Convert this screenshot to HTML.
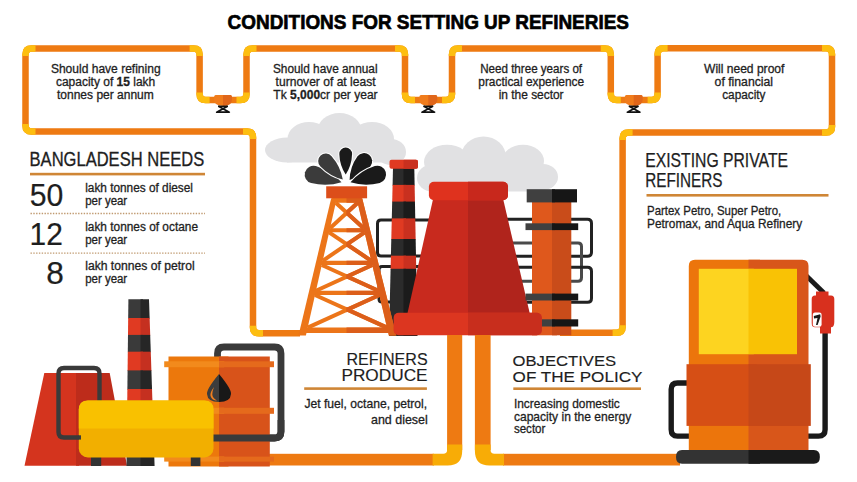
<!DOCTYPE html>
<html><head><meta charset="utf-8"><style>
html,body{margin:0;padding:0;background:#fff;width:857px;height:482px;overflow:hidden}
svg{display:block}
</style></head><body>
<svg width="857" height="482" viewBox="0 0 857 482">
<defs><clipPath id="chs"><polygon points="393,168 414.3,168 417.5,336 389,336"/></clipPath>
<clipPath id="drR"><rect x="346.5" y="0" width="200" height="500"/></clipPath>
<clipPath id="ctR"><rect x="468" y="0" width="200" height="500"/></clipPath>
<clipPath id="ch2"><polygon points="128.4,299.3 149,299.3 154.6,466 126.5,466"/></clipPath></defs>
<rect width="857" height="482" fill="#fff"/>
<g fill="#e1e1e3">
<ellipse cx="287" cy="150" rx="22" ry="12.5"/><ellipse cx="309" cy="139" rx="21.5" ry="17"/><ellipse cx="339.5" cy="132" rx="22.5" ry="19"/><ellipse cx="372" cy="139" rx="22" ry="17"/><ellipse cx="391" cy="152" rx="15" ry="13"/><rect x="287" y="139" width="104" height="23.5"/>
<ellipse cx="432" cy="178" rx="15" ry="13.5"/><ellipse cx="447" cy="162" rx="23" ry="17.2"/><ellipse cx="483.5" cy="157" rx="22.5" ry="20.5"/><ellipse cx="523" cy="161" rx="21" ry="16.2"/><ellipse cx="543" cy="177" rx="15" ry="13"/><rect x="432" y="160" width="111" height="31.5"/>
</g>
<g fill="none" stroke-width="3">
<path d="M430 220 H381 Q377.5 220 377.5 223.5 V252.5 Q377.5 256 381 256 H430" stroke="#222"/>
<path d="M500 219.2 H587.5 Q591.5 219.2 591.5 223.2 V252.2 Q591.5 256.2 587.5 256.2 H500" stroke="#222"/>
<path d="M500 243 H578 Q581.5 243 581.5 246.5 V277.5 Q581.5 281.3 578 281.3 H500" stroke="#4a4a4a"/>
<path d="M430 266.5 H382 Q379 266.5 379 269.5 V299 Q379 302 382 302 H430" stroke="#222"/>
<path d="M500 267.2 H587.5 Q591.5 267.2 591.5 271.2 V298.2 Q591.5 302.2 587.5 302.2 H500" stroke="#222"/>
</g>
<path d="M300.0 333.2 L259.0 333.2 Q253.0 333.2 253.0 327.2 L253.0 137.5 Q253.0 131.5 247.0 131.5 L31.5 131.5 Q25.5 131.5 25.5 125.5 L25.5 54.4 Q25.5 48.4 31.5 48.4 L193.6 48.4 Q199.6 48.4 199.6 54.4 L199.6 94.0 Q199.6 100.0 205.6 100.0 L240.5 100.0 Q246.5 100.0 246.5 94.0 L246.5 54.4 Q246.5 48.4 252.5 48.4 L399.0 48.4 Q405.0 48.4 405.0 54.4 L405.0 94.0 Q405.0 100.0 411.0 100.0 L446.0 100.0 Q452.0 100.0 452.0 94.0 L452.0 54.4 Q452.0 48.4 458.0 48.4 L604.8 48.4 Q610.8 48.4 610.8 54.4 L610.8 94.0 Q610.8 100.0 616.8 100.0 L651.6 100.0 Q657.6 100.0 657.6 94.0 L657.6 54.2 Q657.6 48.2 663.6 48.2 L826.0 48.2 Q832.0 48.2 832.0 54.2 L832.0 126.6 Q832.0 132.6 826.0 132.6 L628.6 132.6 Q622.6 132.6 622.6 138.6 L622.6 326.8 Q622.6 332.8 616.6 332.8 L560.0 332.8" fill="none" stroke="#ee7a12" stroke-width="6.5"/><path d="M263.0 333.2 L259.0 333.2 Q253.0 333.2 253.0 327.2 L253.0 325.7" fill="none" stroke="#fdbe10" stroke-width="6.5"/><path d="M253.0 139.0 L253.0 137.5 Q253.0 131.5 247.0 131.5 L243.0 131.5" fill="none" stroke="#fdbe10" stroke-width="6.5"/><path d="M35.5 131.5 L31.5 131.5 Q25.5 131.5 25.5 125.5 L25.5 124.0" fill="none" stroke="#fdbe10" stroke-width="6.5"/><path d="M25.5 55.9 L25.5 54.4 Q25.5 48.4 31.5 48.4 L35.5 48.4" fill="none" stroke="#fdbe10" stroke-width="6.5"/><path d="M189.6 48.4 L193.6 48.4 Q199.6 48.4 199.6 54.4 L199.6 55.9" fill="none" stroke="#fdbe10" stroke-width="6.5"/><path d="M199.6 92.5 L199.6 94.0 Q199.6 100.0 205.6 100.0 L209.6 100.0" fill="none" stroke="#fdbe10" stroke-width="6.5"/><path d="M236.5 100.0 L240.5 100.0 Q246.5 100.0 246.5 94.0 L246.5 92.5" fill="none" stroke="#fdbe10" stroke-width="6.5"/><path d="M246.5 55.9 L246.5 54.4 Q246.5 48.4 252.5 48.4 L256.5 48.4" fill="none" stroke="#fdbe10" stroke-width="6.5"/><path d="M395.0 48.4 L399.0 48.4 Q405.0 48.4 405.0 54.4 L405.0 55.9" fill="none" stroke="#fdbe10" stroke-width="6.5"/><path d="M405.0 92.5 L405.0 94.0 Q405.0 100.0 411.0 100.0 L415.0 100.0" fill="none" stroke="#fdbe10" stroke-width="6.5"/><path d="M442.0 100.0 L446.0 100.0 Q452.0 100.0 452.0 94.0 L452.0 92.5" fill="none" stroke="#fdbe10" stroke-width="6.5"/><path d="M452.0 55.9 L452.0 54.4 Q452.0 48.4 458.0 48.4 L462.0 48.4" fill="none" stroke="#fdbe10" stroke-width="6.5"/><path d="M600.8 48.4 L604.8 48.4 Q610.8 48.4 610.8 54.4 L610.8 55.9" fill="none" stroke="#fdbe10" stroke-width="6.5"/><path d="M610.8 92.5 L610.8 94.0 Q610.8 100.0 616.8 100.0 L620.8 100.0" fill="none" stroke="#fdbe10" stroke-width="6.5"/><path d="M647.6 100.0 L651.6 100.0 Q657.6 100.0 657.6 94.0 L657.6 92.5" fill="none" stroke="#fdbe10" stroke-width="6.5"/><path d="M657.6 55.7 L657.6 54.2 Q657.6 48.2 663.6 48.2 L667.6 48.2" fill="none" stroke="#fdbe10" stroke-width="6.5"/><path d="M822.0 48.2 L826.0 48.2 Q832.0 48.2 832.0 54.2 L832.0 55.7" fill="none" stroke="#fdbe10" stroke-width="6.5"/><path d="M832.0 125.1 L832.0 126.6 Q832.0 132.6 826.0 132.6 L822.0 132.6" fill="none" stroke="#fdbe10" stroke-width="6.5"/><path d="M632.6 132.6 L628.6 132.6 Q622.6 132.6 622.6 138.6 L622.6 140.1" fill="none" stroke="#fdbe10" stroke-width="6.5"/><path d="M622.6 325.3 L622.6 326.8 Q622.6 332.8 616.6 332.8 L612.6 332.8" fill="none" stroke="#fdbe10" stroke-width="6.5"/>
<path d="M215.5 95 h15 q1.5 0 1.5 2.5 v2 q0 6.5 -9 6.5 q-9 0 -9 -6.5 v-2 q0 -2.5 1.5 -2.5 z" fill="#f07c1c"/><path d="M223.0 95 h7.5 q1.5 0 1.5 2.5 v2 q0 6.5 -9 6.5 z" fill="#e0661a"/><path d="M218.0 106.3 h10" stroke="#111" stroke-width="1.5"/><path d="M218.5 106.3 L229.3 112.2 H216.7 L227.5 106.3" fill="none" stroke="#111" stroke-width="1.7" stroke-linejoin="round"/>
<path d="M420.8 95 h15 q1.5 0 1.5 2.5 v2 q0 6.5 -9 6.5 q-9 0 -9 -6.5 v-2 q0 -2.5 1.5 -2.5 z" fill="#f07c1c"/><path d="M428.3 95 h7.5 q1.5 0 1.5 2.5 v2 q0 6.5 -9 6.5 z" fill="#e0661a"/><path d="M423.3 106.3 h10" stroke="#111" stroke-width="1.5"/><path d="M423.8 106.3 L434.6 112.2 H422.0 L432.8 106.3" fill="none" stroke="#111" stroke-width="1.7" stroke-linejoin="round"/>
<path d="M626.2 95 h15 q1.5 0 1.5 2.5 v2 q0 6.5 -9 6.5 q-9 0 -9 -6.5 v-2 q0 -2.5 1.5 -2.5 z" fill="#f07c1c"/><path d="M633.7 95 h7.5 q1.5 0 1.5 2.5 v2 q0 6.5 -9 6.5 z" fill="#e0661a"/><path d="M628.7 106.3 h10" stroke="#111" stroke-width="1.5"/><path d="M629.2 106.3 L640.0 112.2 H627.4 L638.2 106.3" fill="none" stroke="#111" stroke-width="1.7" stroke-linejoin="round"/>
<g clip-path="url(#chs)"><rect x="385" y="168.0" width="21" height="17.5" fill="#2b2b2b"/><rect x="403.5" y="168.0" width="18" height="17.5" fill="#1b1b1b"/><rect x="385" y="184.9" width="21" height="17.3" fill="#e03a22"/><rect x="403.5" y="184.9" width="18" height="17.3" fill="#c9301f"/><rect x="385" y="201.6" width="21" height="17.4" fill="#2b2b2b"/><rect x="403.5" y="201.6" width="18" height="17.4" fill="#1b1b1b"/><rect x="385" y="218.4" width="21" height="21.2" fill="#e03a22"/><rect x="403.5" y="218.4" width="18" height="21.2" fill="#c9301f"/><rect x="385" y="239.0" width="21" height="17.3" fill="#2b2b2b"/><rect x="403.5" y="239.0" width="18" height="17.3" fill="#1b1b1b"/><rect x="385" y="255.7" width="21" height="13.7" fill="#e03a22"/><rect x="403.5" y="255.7" width="18" height="13.7" fill="#c9301f"/><rect x="385" y="268.8" width="21" height="67.8" fill="#2b2b2b"/><rect x="403.5" y="268.8" width="18" height="67.8" fill="#1b1b1b"/></g><rect x="389.5" y="159.7" width="28.5" height="9" rx="2" fill="#e03a22"/><path d="M403.5 159.7 H416 Q418 159.7 418 161.7 V166.7 Q418 168.7 416 168.7 H403.5 Z" fill="#c9301f"/>
<polygon points="331.2,198.3 336.8,198.3 305.9,335.4 298.5,335.4" fill="#ec7519"/><polygon points="356.6,198.3 362.2,198.3 396.3,335.4 388.9,335.4" fill="#ec7519"/><polygon points="332.4,197.5 361.0,197.5 362.3,202.8 331.1,202.8" fill="#ec7519"/><polygon points="325.0,228.3 368.7,228.3 369.7,232.3 324.1,232.3" fill="#ec7519"/><polygon points="317.3,260.8 376.7,260.8 377.8,265.0 316.3,265.0" fill="#ec7519"/><polygon points="310.1,290.8 384.2,290.8 385.3,295.0 309.1,295.0" fill="#ec7519"/><polygon points="301.4,327.6 393.4,327.6 394.7,333.0 300.1,333.0" fill="#ec7519"/><line x1="335.8" y1="202.8" x2="363.7" y2="228.3" stroke="#ec7519" stroke-width="4"/><line x1="357.7" y1="202.8" x2="330.0" y2="228.3" stroke="#ec7519" stroke-width="4"/><line x1="329.1" y1="232.3" x2="371.3" y2="260.8" stroke="#ec7519" stroke-width="4"/><line x1="364.6" y1="232.3" x2="322.7" y2="260.8" stroke="#ec7519" stroke-width="4"/><line x1="321.8" y1="265.0" x2="378.4" y2="290.8" stroke="#ec7519" stroke-width="4"/><line x1="372.3" y1="265.0" x2="316.0" y2="290.8" stroke="#ec7519" stroke-width="4"/><line x1="315.0" y1="295.0" x2="387.1" y2="327.6" stroke="#ec7519" stroke-width="4"/><line x1="379.4" y1="295.0" x2="307.7" y2="327.6" stroke="#ec7519" stroke-width="4"/>
<g clip-path="url(#drR)"><polygon points="331.2,198.3 336.8,198.3 305.9,335.4 298.5,335.4" fill="#dc5e1a"/><polygon points="356.6,198.3 362.2,198.3 396.3,335.4 388.9,335.4" fill="#dc5e1a"/><polygon points="332.4,197.5 361.0,197.5 362.3,202.8 331.1,202.8" fill="#dc5e1a"/><polygon points="325.0,228.3 368.7,228.3 369.7,232.3 324.1,232.3" fill="#dc5e1a"/><polygon points="317.3,260.8 376.7,260.8 377.8,265.0 316.3,265.0" fill="#dc5e1a"/><polygon points="310.1,290.8 384.2,290.8 385.3,295.0 309.1,295.0" fill="#dc5e1a"/><polygon points="301.4,327.6 393.4,327.6 394.7,333.0 300.1,333.0" fill="#dc5e1a"/><line x1="335.8" y1="202.8" x2="363.7" y2="228.3" stroke="#dc5e1a" stroke-width="4"/><line x1="357.7" y1="202.8" x2="330.0" y2="228.3" stroke="#dc5e1a" stroke-width="4"/><line x1="329.1" y1="232.3" x2="371.3" y2="260.8" stroke="#dc5e1a" stroke-width="4"/><line x1="364.6" y1="232.3" x2="322.7" y2="260.8" stroke="#dc5e1a" stroke-width="4"/><line x1="321.8" y1="265.0" x2="378.4" y2="290.8" stroke="#dc5e1a" stroke-width="4"/><line x1="372.3" y1="265.0" x2="316.0" y2="290.8" stroke="#dc5e1a" stroke-width="4"/><line x1="315.0" y1="295.0" x2="387.1" y2="327.6" stroke="#dc5e1a" stroke-width="4"/><line x1="379.4" y1="295.0" x2="307.7" y2="327.6" stroke="#dc5e1a" stroke-width="4"/></g>
<rect x="326.2" y="186.3" width="40.9" height="12" fill="#dc4e1a"/>
<path d="M341.50 182.30 Q331.12 170.77 315.83 166.11 A8.80 8.80 0 1 0 311.17 183.09 Q326.68 186.90 341.50 182.30 Z" fill="#3b3b3b" stroke="#fff" stroke-width="2" paint-order="stroke"/>
<path d="M342.80 179.50 Q340.55 166.41 331.58 156.15 A7.60 7.60 0 1 0 320.42 166.45 Q329.93 176.21 342.80 179.50 Z" fill="#3b3b3b" stroke="#fff" stroke-width="2" paint-order="stroke"/>
<path d="M345.70 174.50 Q351.78 165.28 352.10 154.00 A6.40 6.40 0 1 0 339.30 154.00 Q339.62 165.28 345.70 174.50 Z" fill="#1a1a1a" stroke="#fff" stroke-width="2" paint-order="stroke"/>
<path d="M349.60 180.00 Q362.25 176.34 370.50 166.30 A8.20 8.20 0 1 0 357.50 156.30 Q349.91 166.83 349.60 180.00 Z" fill="#1a1a1a" stroke="#fff" stroke-width="2" paint-order="stroke"/>
<path d="M350.50 182.30 Q364.90 186.82 379.76 182.95 A8.80 8.80 0 1 0 374.84 166.05 Q360.22 170.76 350.50 182.30 Z" fill="#1a1a1a" stroke="#fff" stroke-width="2" paint-order="stroke"/>
<polygon points="432.9,199.8 471,199.8 471,313.5 407.4,313.5" fill="#c82a1e"/>
<polygon points="468,199.8 503.3,199.8 529.8,313.5 468,313.5" fill="#b0241c"/>
<rect x="428.9" y="181.8" width="79.1" height="18.4" rx="5" fill="#df321e"/><g clip-path="url(#ctR)"><rect x="428.9" y="181.8" width="79.1" height="18.4" rx="5" fill="#c8281c"/></g>
<rect x="532" y="202" width="25" height="133.3" fill="#df581c"/><rect x="552" y="202" width="19.3" height="133.3" fill="#c94c1a"/>
<rect x="526.7" y="189.2" width="28.3" height="13.2" fill="#404040"/>
<rect x="552" y="189.2" width="25.0" height="13.2" fill="#161616"/>
<rect x="525.5" y="223.3" width="29.5" height="6.8" fill="#404040"/>
<rect x="552" y="223.3" width="26.2" height="6.8" fill="#161616"/>
<rect x="525.5" y="293.6" width="29.5" height="6.9" fill="#404040"/>
<rect x="552" y="293.6" width="26.2" height="6.9" fill="#161616"/>
<rect x="525.5" y="319.3" width="29.5" height="7.2" fill="#404040"/>
<rect x="552" y="319.3" width="26.2" height="7.2" fill="#161616"/>
<rect x="393.6" y="312.8" width="148.2" height="22.5" rx="5" fill="#dc3620"/><g clip-path="url(#ctR)"><rect x="393.6" y="312.8" width="148.2" height="22.5" rx="5" fill="#c82e1d"/></g>
<rect x="447.1" y="335" width="15.1" height="115" fill="#ee7a12"/><rect x="474.9" y="335" width="15.7" height="115" fill="#ee7a12"/><rect x="268" y="453.8" width="166" height="11.7" fill="#ee7a12"/><rect x="503" y="453.8" width="177" height="11.7" fill="#ee7a12"/><path d="M432.6 453.8 H443.3 Q447.1 453.8 447.1 450 V444.5 H462.2 V451 Q462.2 465.5 447.7 465.5 H432.6 Z" fill="#f8ac06"/><path d="M504 453.8 H494.4 Q490.6 453.8 490.6 450 V444.5 H474.9 V451 Q474.9 465.5 489.4 465.5 H504 Z" fill="#f8ac06"/>
<polygon points="44.3,373 79,373 79,465.8 24.5,465.8" fill="#d4341e"/>
<polygon points="76,373 109.7,373 127,465.8 76,465.8" fill="#bd2c1b"/>
<path d="M80 437.5 H64 Q58.5 437.5 58.5 432 V373.5 Q58.5 368 64 368 H94 Q99.5 368 99.5 373.5 V405" fill="none" stroke="#3a3a3a" stroke-width="4.4"/>
<g clip-path="url(#ch2)"><rect x="120" y="299.0" width="23" height="19.6" fill="#3a3a3a"/><rect x="140.5" y="299.0" width="20" height="19.6" fill="#262626"/><rect x="120" y="318.0" width="23" height="17.5" fill="#e03a22"/><rect x="140.5" y="318.0" width="20" height="17.5" fill="#c53020"/><rect x="120" y="334.9" width="23" height="17.4" fill="#3a3a3a"/><rect x="140.5" y="334.9" width="20" height="17.4" fill="#262626"/><rect x="120" y="351.7" width="23" height="19.3" fill="#e03a22"/><rect x="140.5" y="351.7" width="20" height="19.3" fill="#c53020"/><rect x="120" y="370.4" width="23" height="19.2" fill="#3a3a3a"/><rect x="140.5" y="370.4" width="20" height="19.2" fill="#262626"/><rect x="120" y="389.0" width="23" height="16.6" fill="#e03a22"/><rect x="140.5" y="389.0" width="20" height="16.6" fill="#c53020"/><rect x="120" y="405.0" width="23" height="61.6" fill="#3a3a3a"/><rect x="140.5" y="405.0" width="20" height="61.6" fill="#262626"/></g>
<path d="M217.5 380 V353.5 Q217.5 347 224 347 H274.5 Q281 347 281 353.5 V431.5 Q281 438 274.5 438 H217" fill="none" stroke="#3a3a3a" stroke-width="6.8"/>
<rect x="168.5" y="356.5" width="60" height="110" fill="#ec780c"/><rect x="219" y="356.5" width="50.8" height="110" fill="#d8531a"/>
<rect x="164.2" y="361.3" width="60" height="5.9" fill="#f28a1c"/><rect x="219" y="361.3" width="55" height="5.9" fill="#e56a1c"/>
<rect x="164.2" y="407.8" width="60" height="6.0" fill="#f28a1c"/><rect x="219" y="407.8" width="55" height="6.0" fill="#e56a1c"/>
<rect x="164.2" y="456.6" width="60" height="5.0" fill="#f28a1c"/><rect x="219" y="456.6" width="55" height="5.0" fill="#e56a1c"/>
<path d="M213 438 H274.5 Q281 438 281 431.5 V420" fill="none" stroke="#3a3a3a" stroke-width="6.8"/>
<path d="M219 374 Q206.5 389 207 394 Q207.5 402 219 402 Z" fill="#3d3d3d"/>
<path d="M219 374 Q231.5 389 231 394 Q230.5 402 219 402 Z" fill="#181818"/>
<path d="M214 387 Q209.5 393 210.5 396 Q212 400.5 217 400.5 Q212.5 398 212.3 394.5 Q212.3 391 214 387 Z" fill="#f07f1f"/>
<rect x="91" y="455" width="10.2" height="11" fill="#333"/><rect x="190.8" y="455" width="9.6" height="11" fill="#333"/>
<rect x="78.8" y="400.5" width="134.7" height="57" rx="9" fill="#f2af00"/>
<path d="M78.8 428.6 V409.5 Q78.8 400.5 87.8 400.5 H204.5 Q213.5 400.5 213.5 409.5 V428.6 Z" fill="#f9c100"/>
<rect x="78" y="435.3" width="3" height="4.3" fill="#3a3a3a"/>
<path d="M687 383 H677.5 Q671.2 383 671.2 389.3 V429.5 Q671.2 436.1 677.5 436.1 H818.5 Q825.1 436.1 825.1 429.5 V330" fill="none" stroke="#1a1a1a" stroke-width="5.4"/>
<path d="M805 274.5 L824 293" fill="none" stroke="#1a1a1a" stroke-width="4.8"/>
<path d="M688.8 451 V266 Q688.8 259.8 695 259.8 H760 V451 Z" fill="#ec750c"/>
<path d="M748.5 451 V259.8 H802.3 Q808.5 259.8 808.5 266 V451 Z" fill="#d8561a"/>
<rect x="698.8" y="268.8" width="55" height="85.4" fill="#fdd420"/><rect x="748.5" y="268.8" width="48.5" height="85.4" fill="#f9c205"/>
<rect x="686.5" y="364.2" width="70" height="61.7" fill="#d64f15"/><rect x="748.5" y="364.2" width="62.3" height="61.7" fill="#c64818"/>
<path d="M682 450 H760 V463.8 H682 Q676 463.8 676 457 Q676 450 682 450 Z" fill="#333"/>
<path d="M748.5 450 H813.9 Q819.9 450 819.9 457 Q819.9 463.8 813.9 463.8 H748.5 Z" fill="#1a1a1a"/>
<path d="M816 291.5 H828.5 V295.4 H831 Q834.3 295.4 834.3 299 V322 Q834.3 327.3 831 327.3 V333.5 H820 V327.3 H815 Q811.7 327.3 811.7 323 V299 Q811.7 295.4 815 295.4 H816 Z" fill="#d8301e"/>
<rect x="812.8" y="312.5" width="8.8" height="14.2" rx="2.2" fill="#fff"/>
<path d="M813.8 316 L820.2 314.2 L820.6 316.5 L817.6 325 L816 325 L817.5 318 L814 318.5 Z" fill="#1a1a1a"/>
<text x="227.6" y="28.8" font-family="Liberation Sans" font-size="20.80" font-weight="bold" text-anchor="start" textLength="401.3" lengthAdjust="spacingAndGlyphs" fill="#000" stroke="#000" stroke-width="0.70">CONDITIONS FOR SETTING UP REFINERIES</text>
<text x="50.9" y="72.9" font-family="Liberation Sans" font-size="12.30" font-weight="normal" text-anchor="start" textLength="109.7" lengthAdjust="spacingAndGlyphs" fill="#1e1e1e" stroke="#1e1e1e" stroke-width="0.30">Should have refining</text><text x="55.9" y="86.1" font-family="Liberation Sans" font-size="12.30" font-weight="normal" text-anchor="start" textLength="99.4" lengthAdjust="spacingAndGlyphs" fill="#1e1e1e" stroke="#1e1e1e" stroke-width="0.30">capacity of <tspan font-weight="bold">15</tspan> lakh</text><text x="57.0" y="99.3" font-family="Liberation Sans" font-size="12.30" font-weight="normal" text-anchor="start" textLength="96.8" lengthAdjust="spacingAndGlyphs" fill="#1e1e1e" stroke="#1e1e1e" stroke-width="0.30">tonnes per annum</text>
<text x="272.9" y="72.9" font-family="Liberation Sans" font-size="12.30" font-weight="normal" text-anchor="start" textLength="104.7" lengthAdjust="spacingAndGlyphs" fill="#1e1e1e" stroke="#1e1e1e" stroke-width="0.30">Should have annual</text><text x="275.6" y="86.1" font-family="Liberation Sans" font-size="12.30" font-weight="normal" text-anchor="start" textLength="100.0" lengthAdjust="spacingAndGlyphs" fill="#1e1e1e" stroke="#1e1e1e" stroke-width="0.30">turnover of at least</text><text x="273.3" y="99.3" font-family="Liberation Sans" font-size="12.30" font-weight="normal" text-anchor="start" textLength="104.3" lengthAdjust="spacingAndGlyphs" fill="#1e1e1e" stroke="#1e1e1e" stroke-width="0.30">Tk <tspan font-weight="bold">5,000</tspan>cr per year</text>
<text x="480.2" y="72.9" font-family="Liberation Sans" font-size="12.30" font-weight="normal" text-anchor="start" textLength="101.9" lengthAdjust="spacingAndGlyphs" fill="#1e1e1e" stroke="#1e1e1e" stroke-width="0.30">Need three years of</text><text x="478.3" y="86.1" font-family="Liberation Sans" font-size="12.30" font-weight="normal" text-anchor="start" textLength="105.8" lengthAdjust="spacingAndGlyphs" fill="#1e1e1e" stroke="#1e1e1e" stroke-width="0.30">practical experience</text><text x="498.7" y="99.3" font-family="Liberation Sans" font-size="12.30" font-weight="normal" text-anchor="start" textLength="64.9" lengthAdjust="spacingAndGlyphs" fill="#1e1e1e" stroke="#1e1e1e" stroke-width="0.30">in the sector</text>
<text x="704.0" y="72.9" font-family="Liberation Sans" font-size="12.30" font-weight="normal" text-anchor="start" textLength="80.4" lengthAdjust="spacingAndGlyphs" fill="#1e1e1e" stroke="#1e1e1e" stroke-width="0.30">Will need proof</text><text x="714.6" y="86.1" font-family="Liberation Sans" font-size="12.30" font-weight="normal" text-anchor="start" textLength="58.5" lengthAdjust="spacingAndGlyphs" fill="#1e1e1e" stroke="#1e1e1e" stroke-width="0.30">of financial</text><text x="722.2" y="99.3" font-family="Liberation Sans" font-size="12.30" font-weight="normal" text-anchor="start" textLength="43.3" lengthAdjust="spacingAndGlyphs" fill="#1e1e1e" stroke="#1e1e1e" stroke-width="0.30">capacity</text>
<text x="29.6" y="166.1" font-family="Liberation Sans" font-size="19.30" font-weight="normal" text-anchor="start" textLength="174.6" lengthAdjust="spacingAndGlyphs" fill="#1e1e1e" stroke="#1e1e1e" stroke-width="0.30">BANGLADESH NEEDS</text>
<rect x="30" y="172.8" width="175" height="2.6" fill="#cf8636"/>
<path d="M30.5 213.5 H205 M30.5 253.1 H205" stroke="#c09a70" stroke-width="1.4" stroke-dasharray="1.4 1.4"/>
<text x="29.8" y="206.0" font-family="Liberation Sans" font-size="31.80" font-weight="normal" text-anchor="start" textLength="33.6" lengthAdjust="spacingAndGlyphs" fill="#1e1e1e" stroke="#1e1e1e" stroke-width="0.20">50</text>
<text x="29.5" y="245.1" font-family="Liberation Sans" font-size="31.80" font-weight="normal" text-anchor="start" textLength="33.3" lengthAdjust="spacingAndGlyphs" fill="#1e1e1e" stroke="#1e1e1e" stroke-width="0.20">12</text>
<text x="46.2" y="284.2" font-family="Liberation Sans" font-size="31.80" font-weight="normal" text-anchor="start" textLength="17.6" lengthAdjust="spacingAndGlyphs" fill="#1e1e1e" stroke="#1e1e1e" stroke-width="0.20">8</text>
<text x="85.2" y="192.2" font-family="Liberation Sans" font-size="12.00" font-weight="normal" text-anchor="start" textLength="107.8" lengthAdjust="spacingAndGlyphs" fill="#1e1e1e" stroke="#1e1e1e" stroke-width="0.30">lakh tonnes of diesel</text>
<text x="85.2" y="204.8" font-family="Liberation Sans" font-size="12.00" font-weight="normal" text-anchor="start" textLength="42.0" lengthAdjust="spacingAndGlyphs" fill="#1e1e1e" stroke="#1e1e1e" stroke-width="0.30">per year</text>
<text x="85.2" y="230.8" font-family="Liberation Sans" font-size="12.00" font-weight="normal" text-anchor="start" textLength="112.8" lengthAdjust="spacingAndGlyphs" fill="#1e1e1e" stroke="#1e1e1e" stroke-width="0.30">lakh tonnes of octane</text>
<text x="85.2" y="243.6" font-family="Liberation Sans" font-size="12.00" font-weight="normal" text-anchor="start" textLength="42.0" lengthAdjust="spacingAndGlyphs" fill="#1e1e1e" stroke="#1e1e1e" stroke-width="0.30">per year</text>
<text x="85.2" y="270.4" font-family="Liberation Sans" font-size="12.00" font-weight="normal" text-anchor="start" textLength="109.4" lengthAdjust="spacingAndGlyphs" fill="#1e1e1e" stroke="#1e1e1e" stroke-width="0.30">lakh tonnes of petrol</text>
<text x="85.2" y="283.0" font-family="Liberation Sans" font-size="12.00" font-weight="normal" text-anchor="start" textLength="42.0" lengthAdjust="spacingAndGlyphs" fill="#1e1e1e" stroke="#1e1e1e" stroke-width="0.30">per year</text>
<text x="645.2" y="167.2" font-family="Liberation Sans" font-size="19.30" font-weight="normal" text-anchor="start" textLength="142.8" lengthAdjust="spacingAndGlyphs" fill="#1e1e1e" stroke="#1e1e1e" stroke-width="0.25">EXISTING PRIVATE</text>
<text x="645.2" y="187.0" font-family="Liberation Sans" font-size="19.30" font-weight="normal" text-anchor="start" textLength="77.2" lengthAdjust="spacingAndGlyphs" fill="#1e1e1e" stroke="#1e1e1e" stroke-width="0.25">REFINERS</text>
<rect x="646.5" y="194" width="182" height="2.6" fill="#cf8636"/>
<text x="647.0" y="214.5" font-family="Liberation Sans" font-size="13.20" font-weight="normal" text-anchor="start" textLength="134.2" lengthAdjust="spacingAndGlyphs" fill="#1e1e1e" stroke="#1e1e1e" stroke-width="0.30">Partex Petro, Super Petro,</text>
<text x="647.0" y="227.8" font-family="Liberation Sans" font-size="13.20" font-weight="normal" text-anchor="start" textLength="155.2" lengthAdjust="spacingAndGlyphs" fill="#1e1e1e" stroke="#1e1e1e" stroke-width="0.30">Petromax, and Aqua Refinery</text>
<text x="427.6" y="364.7" font-family="Liberation Sans" font-size="15.80" font-weight="normal" text-anchor="end" textLength="81.2" lengthAdjust="spacingAndGlyphs" fill="#1e1e1e" stroke="#1e1e1e" stroke-width="0.15">REFINERS</text>
<text x="427.6" y="380.8" font-family="Liberation Sans" font-size="15.80" font-weight="normal" text-anchor="end" textLength="86.2" lengthAdjust="spacingAndGlyphs" fill="#1e1e1e" stroke="#1e1e1e" stroke-width="0.15">PRODUCE</text>
<rect x="304.2" y="387.3" width="122.7" height="2.6" fill="#cf8636"/>
<text x="427.2" y="408.0" font-family="Liberation Sans" font-size="13.20" font-weight="normal" text-anchor="end" textLength="122.8" lengthAdjust="spacingAndGlyphs" fill="#1e1e1e" stroke="#1e1e1e" stroke-width="0.30">Jet fuel, octane, petrol,</text>
<text x="427.8" y="423.5" font-family="Liberation Sans" font-size="13.20" font-weight="normal" text-anchor="end" textLength="56.8" lengthAdjust="spacingAndGlyphs" fill="#1e1e1e" stroke="#1e1e1e" stroke-width="0.30">and diesel</text>
<text x="512.6" y="366.3" font-family="Liberation Sans" font-size="15.50" font-weight="normal" text-anchor="start" textLength="103.5" lengthAdjust="spacingAndGlyphs" fill="#1e1e1e" stroke="#1e1e1e" stroke-width="0.15">OBJECTIVES</text>
<text x="512.6" y="382.0" font-family="Liberation Sans" font-size="15.50" font-weight="normal" text-anchor="start" textLength="129.8" lengthAdjust="spacingAndGlyphs" fill="#1e1e1e" stroke="#1e1e1e" stroke-width="0.15">OF THE POLICY</text>
<rect x="513.3" y="387.4" width="127.7" height="2.6" fill="#cf8636"/>
<text x="513.9" y="407.7" font-family="Liberation Sans" font-size="13.20" font-weight="normal" text-anchor="start" textLength="105.9" lengthAdjust="spacingAndGlyphs" fill="#1e1e1e" stroke="#1e1e1e" stroke-width="0.30">Increasing domestic</text>
<text x="513.9" y="420.5" font-family="Liberation Sans" font-size="13.20" font-weight="normal" text-anchor="start" textLength="117.3" lengthAdjust="spacingAndGlyphs" fill="#1e1e1e" stroke="#1e1e1e" stroke-width="0.30">capacity in the energy</text>
<text x="513.9" y="432.8" font-family="Liberation Sans" font-size="13.20" font-weight="normal" text-anchor="start" textLength="31.5" lengthAdjust="spacingAndGlyphs" fill="#1e1e1e" stroke="#1e1e1e" stroke-width="0.30">sector</text>
</svg>
</body></html>
